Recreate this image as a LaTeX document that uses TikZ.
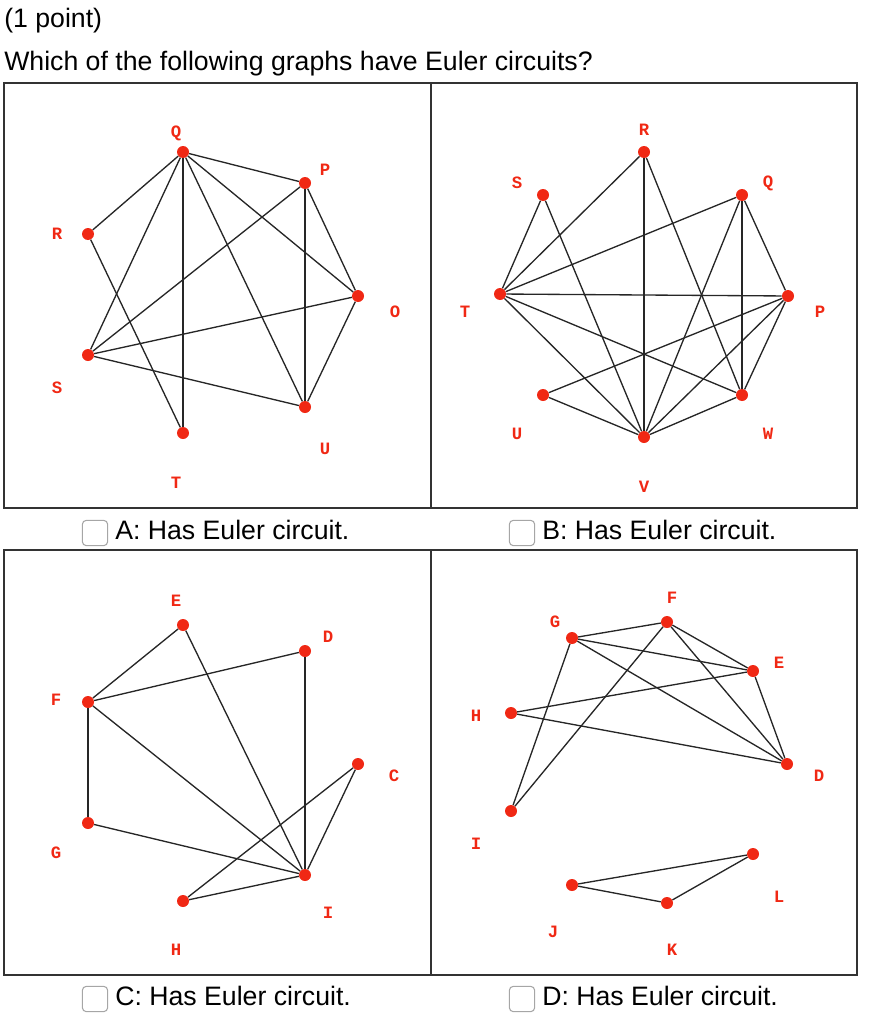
\documentclass[tikz,border=0pt]{standalone}
\usepackage{fontspec}
\setmainfont{Liberation Sans}
\newfontfamily\vfont{Liberation Mono}
\definecolor{vred}{RGB}{240,40,20}
\begin{document}
\begin{tikzpicture}[x=0.75pt,y=-0.75pt,
  v/.style={circle,fill=vred,inner sep=0pt,minimum size=9pt},
  lab/.style={text=vred,font=\vfont\bfseries\fontsize{13}{13}\selectfont},
  ed/.style={draw=black!85,line width=1pt},
  box/.style={draw=black!80,line width=1pt},
  cb/.style={draw=black!35,rounded corners=3pt,line width=0.8pt,minimum size=19pt,inner sep=0pt,fill=white},
  ht/.style={font=\fontsize{20}{22}\selectfont,anchor=west,inner sep=0pt}]
\useasboundingbox (0,0) rectangle (879,1024);
\node[ht] (h1) at (4,21) {(1 point)};
\node[ht] (h2) at (4,64) {Which of the following graphs have Euler circuits?};
\draw[box] (4,83) rectangle (857,508);
\draw[box] (431,83) -- (431,508);
\draw[box] (4,550) rectangle (857,975);
\draw[box] (431,550) -- (431,975);
% checkboxes
\node[cb] (cA) at (95,533) {}; \node[ht] (tA) at (115,530) {A: Has Euler circuit.};
\node[cb] (cB) at (522,533) {}; \node[ht] (tB) at (542,530) {B: Has Euler circuit.};
\node[cb] (cC) at (95,999) {}; \node[ht] (tC) at (115,996) {C: Has Euler circuit.};
\node[cb] (cD) at (522,999) {}; \node[ht] (tD) at (542,996) {D: Has Euler circuit.};
% Panel A
\node[v] (aQ) at (183,152) {}; \node[lab] (laQ) at (176,133) {Q};
\node[v] (aP) at (305,183) {}; \node[lab] (laP) at (325,170) {P};
\node[v] (aO) at (358,296) {}; \node[lab] (laO) at (395,312) {O};
\node[v] (aU) at (305,407) {}; \node[lab] (laU) at (325,449) {U};
\node[v] (aT) at (183,433) {}; \node[lab] (laT) at (176,483) {T};
\node[v] (aS) at (88,355) {};  \node[lab] (laS) at (57,388) {S};
\node[v] (aR) at (88,234) {};  \node[lab] (laR) at (57,234) {R};
\foreach \a/\b in {aQ/aR,aQ/aS,aQ/aT,aQ/aU,aQ/aO,aQ/aP,aR/aT,aP/aS,aP/aU,aP/aO,aO/aS,aO/aU,aS/aU}
  \draw[ed] (\a) -- (\b);
% Panel B
\node[v] (bR) at (644,152) {}; \node[lab] (lbR) at (644,130) {R};
\node[v] (bQ) at (742,195) {}; \node[lab] (lbQ) at (768,183) {Q};
\node[v] (bP) at (788,296) {}; \node[lab] (lbP) at (820,312) {P};
\node[v] (bW) at (742,395) {}; \node[lab] (lbW) at (768,434) {W};
\node[v] (bV) at (644,437) {}; \node[lab] (lbV) at (644,487) {V};
\node[v] (bU) at (543,395) {}; \node[lab] (lbU) at (517,434) {U};
\node[v] (bT) at (500,294) {}; \node[lab] (lbT) at (465,312) {T};
\node[v] (bS) at (543,195) {}; \node[lab] (lbS) at (517,183) {S};
\foreach \a/\b in {bT/bS,bT/bR,bT/bQ,bT/bP,bT/bW,bT/bV,bS/bV,bR/bV,bR/bW,bQ/bV,bQ/bW,bQ/bP,bP/bU,bP/bV,bP/bW,bU/bV,bW/bV}
  \draw[ed] (\a) -- (\b);
% Panel C
\node[v] (cE) at (183,625) {}; \node[lab] (lcE) at (176,601) {E};
\node[v] (cDd) at (305,651) {}; \node[lab] (lcD) at (328,637) {D};
\node[v] (cCc) at (358,764) {}; \node[lab] (lcC) at (394,776) {C};
\node[v] (cI) at (305,875) {}; \node[lab] (lcI) at (328,913) {I};
\node[v] (cH) at (183,901) {}; \node[lab] (lcH) at (176,950) {H};
\node[v] (cG) at (88,823) {};  \node[lab] (lcG) at (56,853) {G};
\node[v] (cF) at (88,702) {};  \node[lab] (lcF) at (56,700) {F};
\foreach \a/\b in {cF/cE,cF/cDd,cF/cG,cF/cI,cG/cI,cE/cI,cDd/cI,cCc/cI,cCc/cH,cH/cI}
  \draw[ed] (\a) -- (\b);
% Panel D
\node[v] (dF) at (667,622) {}; \node[lab] (ldF) at (672,598) {F};
\node[v] (dG) at (572,638) {}; \node[lab] (ldG) at (555,622) {G};
\node[v] (dE) at (753,671) {}; \node[lab] (ldE) at (779,663) {E};
\node[v] (dH) at (511,713) {}; \node[lab] (ldH) at (476,716) {H};
\node[v] (dD) at (787,764) {}; \node[lab] (ldD) at (819,776) {D};
\node[v] (dI) at (511,811) {}; \node[lab] (ldI) at (476,844) {I};
\node[v] (dJ) at (572,885) {}; \node[lab] (ldJ) at (553,932) {J};
\node[v] (dK) at (667,903) {}; \node[lab] (ldK) at (672,950) {K};
\node[v] (dL) at (753,854) {}; \node[lab] (ldL) at (779,897) {L};
\foreach \a/\b in {dG/dF,dG/dE,dG/dD,dG/dI,dF/dE,dF/dD,dF/dI,dH/dE,dH/dD,dE/dD,dJ/dL,dJ/dK,dK/dL}
  \draw[ed] (\a) -- (\b);
\end{tikzpicture}
\end{document}
